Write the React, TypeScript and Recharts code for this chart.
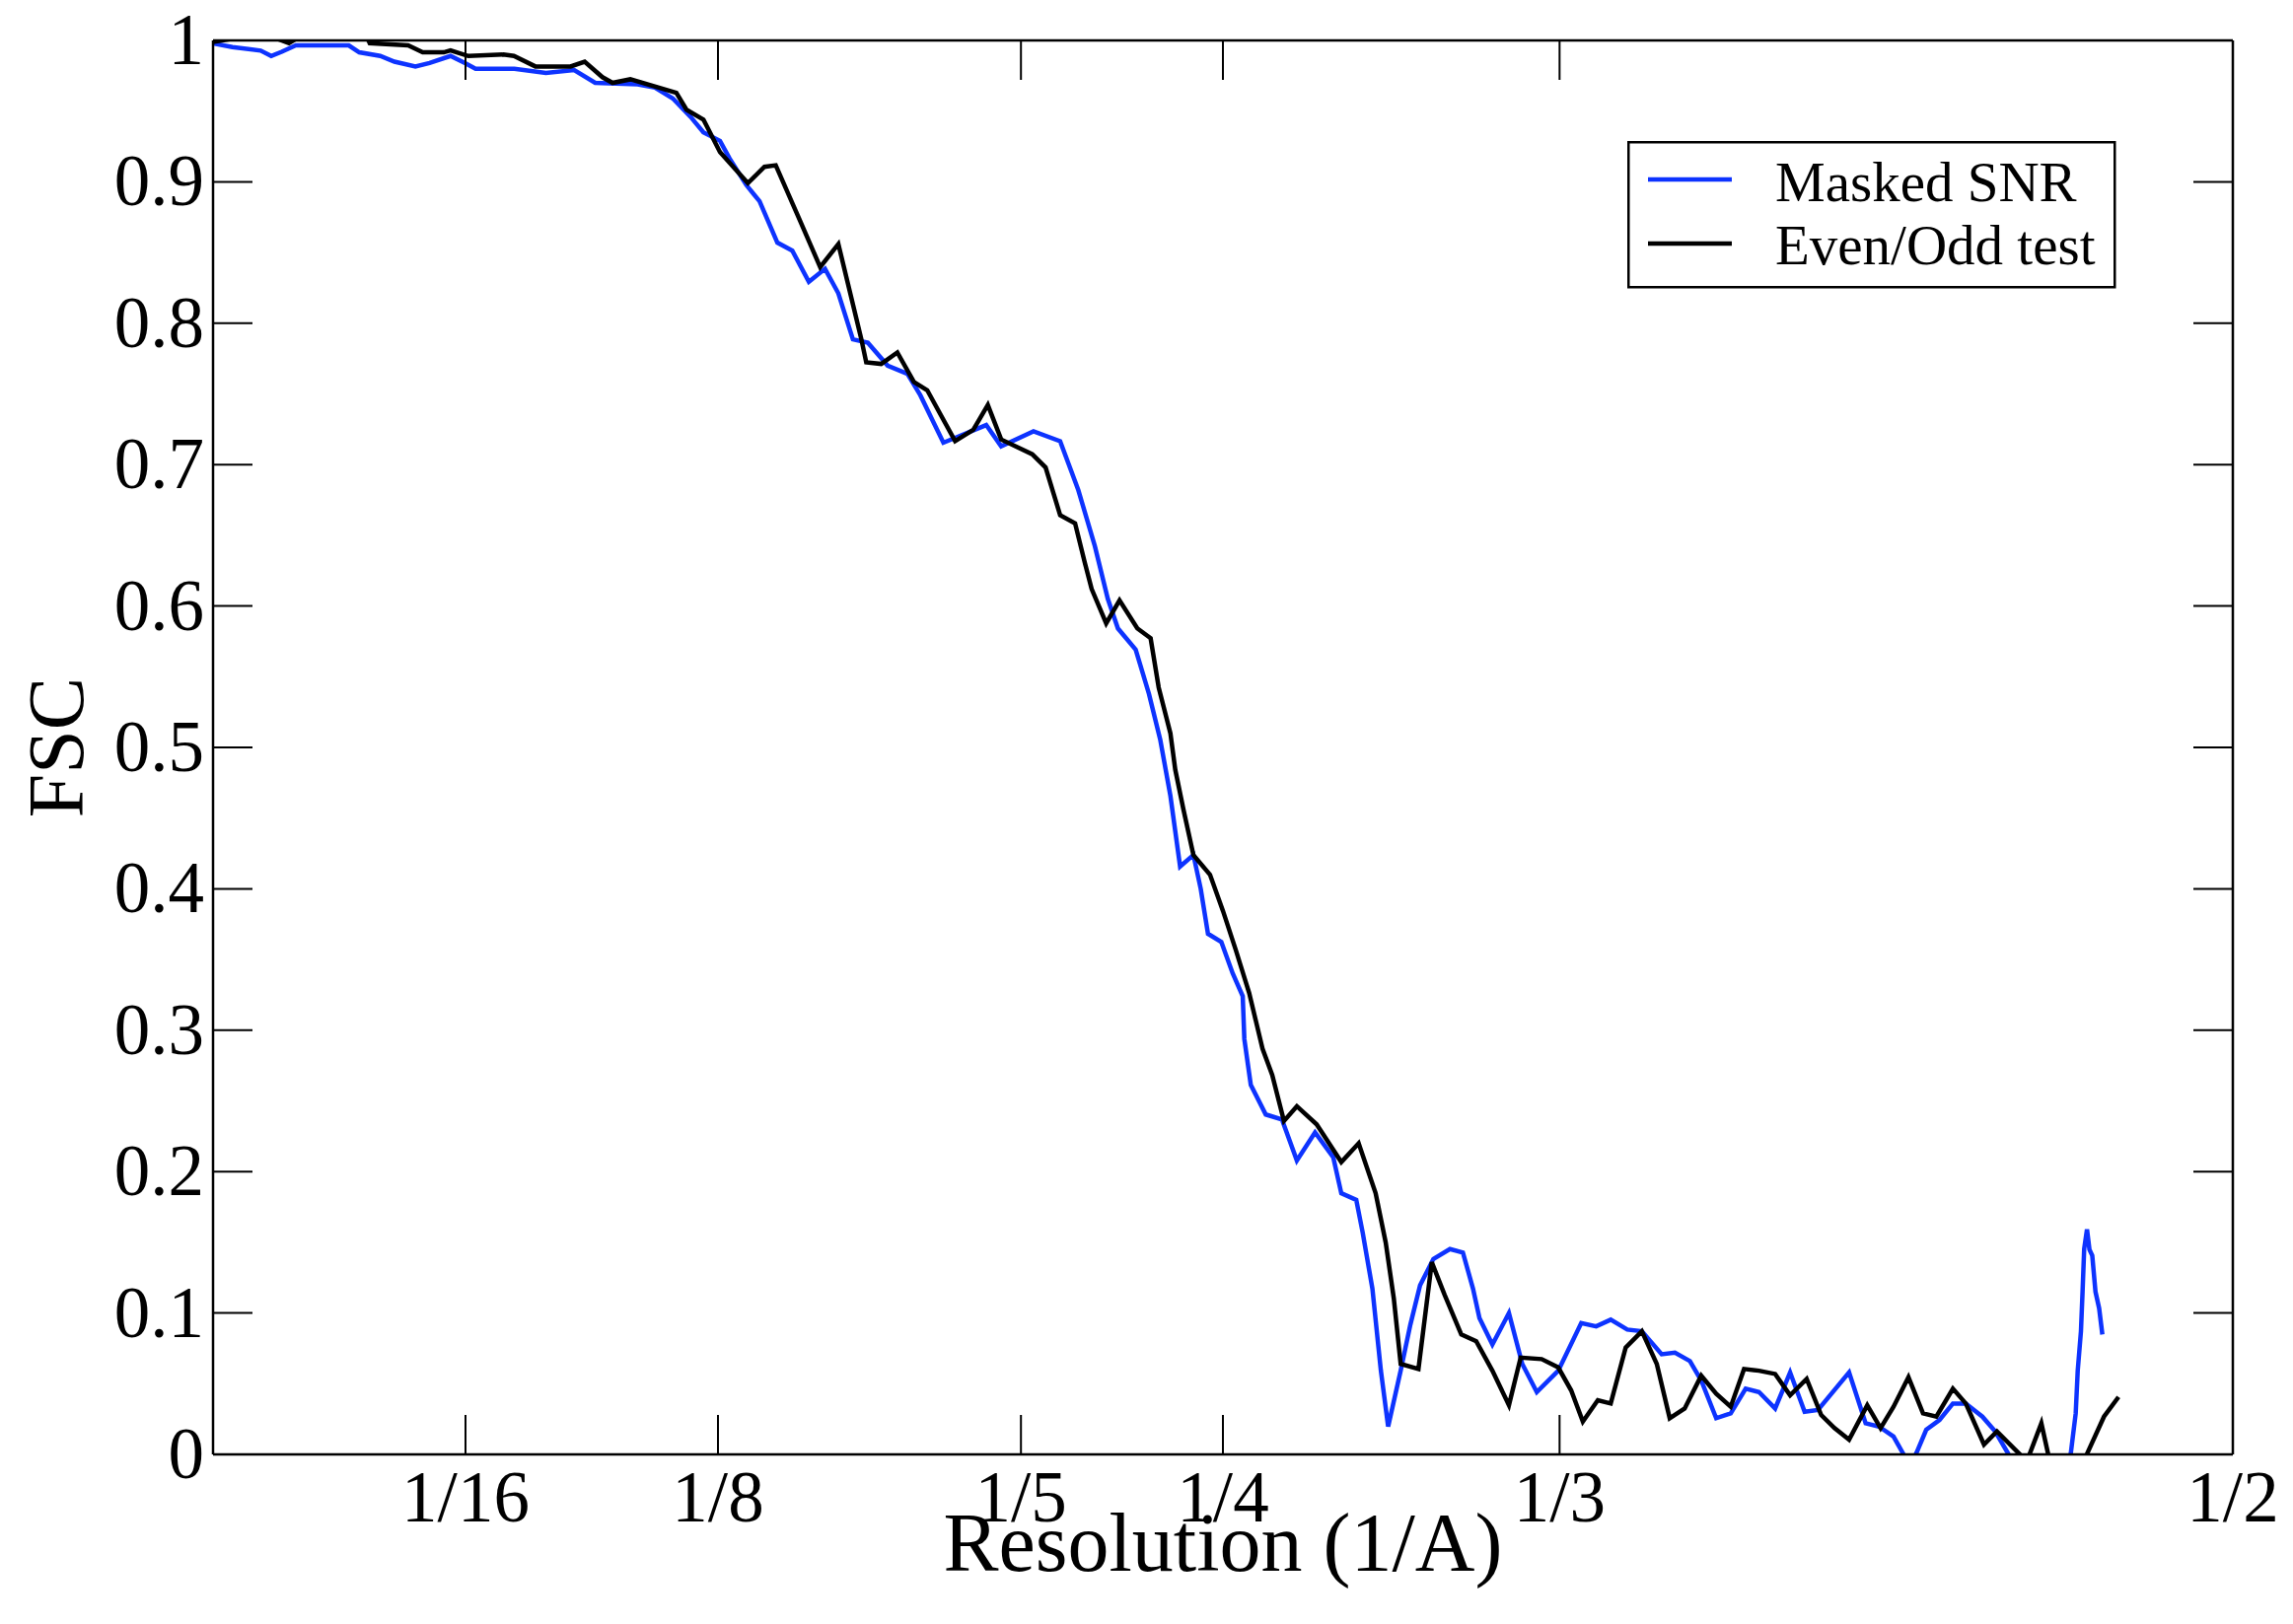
import React from "react";
import { LineChart, Line, XAxis, YAxis, Legend } from "recharts";

// Masked SNR curve (blue)
const snrRes = [
  0, 0.0048, 0.0118, 0.0144, 0.017, 0.0205, 0.0336, 0.0362, 0.0414, 0.0449, 0.0501, 0.0536, 0.0588,
  0.0624, 0.065, 0.0746, 0.0824, 0.0894, 0.0946, 0.1051, 0.1094, 0.1138, 0.1182, 0.1214, 0.1255,
  0.1279, 0.132, 0.1353, 0.1397, 0.1434, 0.1475, 0.1515, 0.1548, 0.1584, 0.1621, 0.167, 0.1719,
  0.1751, 0.1808, 0.1914, 0.1951, 0.2031, 0.2097, 0.2142, 0.2183, 0.2215, 0.224, 0.2284, 0.2317,
  0.2345, 0.237, 0.2394, 0.2427, 0.2445, 0.2463, 0.2496, 0.2524, 0.2549, 0.2553, 0.2569, 0.2606,
  0.2646, 0.2683, 0.2728, 0.2773, 0.2793, 0.283, 0.2846, 0.287, 0.2891, 0.2909, 0.294, 0.2964,
  0.2988, 0.3021, 0.3062, 0.3094, 0.3119, 0.3135, 0.3167, 0.3208, 0.3241, 0.3277, 0.333, 0.3387,
  0.3424, 0.346, 0.3501, 0.3537, 0.3586, 0.3619, 0.3656, 0.3684, 0.3721, 0.3757, 0.3794, 0.3827,
  0.3867, 0.3904, 0.394, 0.3973, 0.405, 0.4091, 0.4124, 0.416, 0.4185, 0.4201, 0.4217, 0.4241,
  0.4274, 0.4307, 0.4339, 0.438, 0.4412, 0.4445, 0.449, 0.455, 0.4585, 0.4599, 0.4611, 0.4616,
  0.4624, 0.4628, 0.4632, 0.4639, 0.4645, 0.4652, 0.466, 0.4669, 0.4677,
];
const snrFsc = [
  0.998, 0.9953, 0.9928, 0.989, 0.992, 0.9965, 0.9965, 0.9916, 0.989, 0.985, 0.9816, 0.984, 0.989,
  0.984, 0.98, 0.98, 0.977, 0.979, 0.97, 0.969, 0.9666, 0.959, 0.946, 0.935, 0.929,
  0.9164, 0.8978, 0.8862, 0.857, 0.8513, 0.8293, 0.8385, 0.8211, 0.7886, 0.7863, 0.77, 0.7642,
  0.749, 0.7155, 0.728, 0.713, 0.7235, 0.7166, 0.682, 0.6423, 0.6051, 0.5842, 0.5691, 0.5377,
  0.5052, 0.4657, 0.4158, 0.4239, 0.4, 0.3682, 0.3624, 0.3403, 0.324, 0.2938, 0.2613, 0.2404,
  0.2369, 0.2079, 0.2277, 0.2102, 0.1847, 0.18, 0.1568, 0.1173, 0.0592, 0.0197, 0.0592, 0.0918,
  0.1196, 0.1382, 0.1452, 0.1428, 0.1173, 0.0964, 0.0778, 0.0999, 0.064, 0.0441, 0.0592, 0.0929,
  0.0906, 0.0953, 0.0883, 0.0871, 0.0708, 0.072, 0.066, 0.0523, 0.0256, 0.029, 0.0465, 0.0441,
  0.0325, 0.058, 0.0302, 0.0314, 0.058, 0.022, 0.0197, 0.0127, 0.0, -0.008, 0.0012, 0.0174,
  0.0244, 0.036, 0.036, 0.0267, 0.0162, 0.0, -0.02, -0.025, -0.01, 0.001, 0.029, 0.0592,
  0.0871, 0.115, 0.1452, 0.1591, 0.145, 0.1406, 0.115, 0.1034, 0.0848,
];

// Even/Odd test curve (black)
const eoRes = [
  0, 0.0045, 0.0161, 0.0188, 0.0205, 0.0383, 0.0388, 0.0483, 0.0519, 0.0571, 0.0588, 0.0632,
  0.0719, 0.0745, 0.0798, 0.0885, 0.092, 0.0964, 0.0989, 0.1033, 0.1147, 0.1172, 0.1214, 0.1255,
  0.1324, 0.1365, 0.1393, 0.145, 0.1503, 0.1548, 0.1605, 0.1617, 0.1654, 0.1694, 0.1735, 0.1768,
  0.1837, 0.1882, 0.1918, 0.1951, 0.2028, 0.2061, 0.2097, 0.2134, 0.2158, 0.2175, 0.2211, 0.2244,
  0.2288, 0.2321, 0.2341, 0.237, 0.2382, 0.2402, 0.2427, 0.2468, 0.25, 0.2532, 0.2565, 0.2598,
  0.2622, 0.2651, 0.2683, 0.2732, 0.2793, 0.2836, 0.2878, 0.2903, 0.2923, 0.294, 0.2984, 0.3017,
  0.3049, 0.309, 0.3127, 0.3167, 0.3208, 0.3237, 0.3289, 0.333, 0.3362, 0.3391, 0.3428, 0.346,
  0.3497, 0.3537, 0.3574, 0.3606, 0.3643, 0.3684, 0.3721, 0.3757, 0.379, 0.3827, 0.3867, 0.3904,
  0.3945, 0.3981, 0.4014, 0.405, 0.4095, 0.4128, 0.416, 0.4197, 0.4233, 0.4266, 0.4307, 0.4339,
  0.4384, 0.4416, 0.4469, 0.449, 0.4526, 0.4543, 0.457, 0.461, 0.464, 0.4681, 0.4717,
];
const eoFsc = [
  0.999, 1.001, 1.001, 0.998, 1.001, 1.001, 0.998, 0.9965, 0.9916, 0.9916, 0.993, 0.989,
  0.99, 0.989, 0.9816, 0.9816, 0.985, 0.974, 0.97, 0.9725, 0.963, 0.951, 0.944, 0.921,
  0.899, 0.9106, 0.9117, 0.8746, 0.8397, 0.856, 0.7886, 0.7723, 0.7712, 0.7793, 0.7584, 0.7526,
  0.7166, 0.7247, 0.7422, 0.7178, 0.7073, 0.698, 0.6643, 0.6585, 0.6307, 0.612, 0.5877, 0.604,
  0.5842, 0.5772, 0.5424, 0.5099, 0.4843, 0.4564, 0.4239, 0.41, 0.3845, 0.3566, 0.3263, 0.2869,
  0.2683, 0.2358, 0.2462, 0.2334, 0.2067, 0.22, 0.1847, 0.1498, 0.1103, 0.064, 0.0604, 0.1359,
  0.1127, 0.0848, 0.0801, 0.0592, 0.0348, 0.0685, 0.0674, 0.0615, 0.0453, 0.0232, 0.0383, 0.036,
  0.0755, 0.0871, 0.064, 0.0256, 0.0325, 0.0557, 0.043, 0.0337, 0.0604, 0.0592, 0.0569, 0.0418,
  0.0534, 0.0279, 0.0186, 0.0105, 0.0348, 0.0186, 0.0337, 0.0546, 0.029, 0.0267, 0.0465, 0.036,
  0.007, 0.0162, 0.0012, -0.005, 0.022, 0.0, -0.03, -0.02, 0.001, 0.0267, 0.0406,
];

const seriesNames = ["Masked SNR", "Even/Odd test"];
const resTicks = [1 / 16, 1 / 8, 1 / 5, 1 / 4, 1 / 3, 1 / 2];
const resTickLabels = ["1/16", "1/8", "1/5", "1/4", "1/3", "1/2"];
const fscTicks = [0, 0.1, 0.2, 0.3, 0.4, 0.5, 0.6, 0.7, 0.8, 0.9, 1];

const snrData = snrRes.map((r, i) => ({ res: r, fsc: snrFsc[i] }));
const eoData = eoRes.map((r, i) => ({ res: r, fsc: eoFsc[i] }));

const W = 2325;
const H = 1647;
const FONT = '"Liberation Serif", "DejaVu Serif", "Times New Roman", serif';
const BLUE = "#0d33ff";
const TICK = 40;

function resLabel(v: number) {
  const i = resTicks.findIndex((t) => Math.abs(t - v) < 1e-9);
  return i >= 0 ? resTickLabels[i] : "";
}

// ticks point into the plot, labels sit outside
function BottomTick({ x, y, payload }: any) {
  return (
    <g>
      <line x1={x} y1={y} x2={x} y2={y - TICK} stroke="#000" strokeWidth={2} />
      <text x={x} y={y + 68} textAnchor="middle" fontFamily={FONT} fontSize={73} fill="#000">
        {resLabel(payload.value)}
      </text>
    </g>
  );
}

function TopTick({ x, y }: any) {
  return <line x1={x} y1={y} x2={x} y2={y + TICK} stroke="#000" strokeWidth={2} />;
}

function LeftTick({ x, y, payload }: any) {
  return (
    <g>
      <line x1={x} y1={y} x2={x + TICK} y2={y} stroke="#000" strokeWidth={2} />
      <text x={x - 9} y={y + 24} textAnchor="end" fontFamily={FONT} fontSize={73} fill="#000">
        {String(payload.value)}
      </text>
    </g>
  );
}

function RightTick({ x, y }: any) {
  return <line x1={x} y1={y} x2={x - TICK} y2={y} stroke="#000" strokeWidth={2} />;
}

function FscLegend({ payload }: any) {
  const rows = [...(payload || [])].sort(
    (a: any, b: any) => seriesNames.indexOf(a.value) - seriesNames.indexOf(b.value)
  );
  return (
    <svg width={496} height={150} style={{ display: "block" }}>
      <rect x={1.25} y={1.25} width={493} height={147} fill="#fff" stroke="#000" strokeWidth={2.5} />
      {rows.map((p: any, i: number) => (
        <g key={p.value}>
          <line x1={21} x2={106} y1={39 + i * 65} y2={39 + i * 65} stroke={p.color} strokeWidth={4.5} />
          <text x={150} y={61 + i * 64} fontFamily={FONT} fontSize={57} fill="#000">
            {p.value}
          </text>
        </g>
      ))}
    </svg>
  );
}

const axisLine = { stroke: "#000", strokeWidth: 2.5 };

export default function App() {
  return (
    <div style={{ position: "absolute", left: 0, top: 0, width: W, height: H, background: "#fff" }}>
      <LineChart width={W} height={H} margin={{ top: 3, right: 0, bottom: 0, left: 0 }}>
        <XAxis
          dataKey="res"
          type="number"
          domain={[0, 0.5]}
          ticks={resTicks}
          interval={0}
          allowDataOverflow
          height={172}
          tickSize={0}
          tickMargin={0}
          tickLine={false}
          axisLine={axisLine}
          tick={<BottomTick />}
          label={{
            value: "Resolution (1/A)",
            content: ({ viewBox }: any) => (
              <text
                x={viewBox.x + viewBox.width / 2}
                y={viewBox.y + 118}
                textAnchor="middle"
                fontFamily={FONT}
                fontSize={84}
                fill="#000"
              >
                Resolution (1/A)
              </text>
            ),
          }}
        />
        <XAxis
          xAxisId="top"
          orientation="top"
          dataKey="res"
          type="number"
          domain={[0, 0.5]}
          ticks={resTicks}
          interval={0}
          allowDataOverflow
          height={38}
          tickSize={0}
          tickMargin={0}
          tickLine={false}
          axisLine={axisLine}
          tick={<TopTick />}
        />
        <YAxis
          type="number"
          domain={[0, 1]}
          ticks={fscTicks}
          interval={0}
          allowDataOverflow
          width={216}
          tickSize={0}
          tickMargin={0}
          tickLine={false}
          axisLine={axisLine}
          tick={<LeftTick />}
          label={{
            value: "FSC",
            content: ({ viewBox }: any) => {
              const cx = viewBox.x + 84;
              const cy = viewBox.y + viewBox.height / 2;
              return (
                <text
                  x={cx}
                  y={cy}
                  transform={`rotate(-90, ${cx}, ${cy})`}
                  textAnchor="middle"
                  fontFamily={FONT}
                  fontSize={80}
                  fill="#000"
                >
                  FSC
                </text>
              );
            },
          }}
        />
        <YAxis
          yAxisId="right"
          orientation="right"
          type="number"
          domain={[0, 1]}
          ticks={fscTicks}
          interval={0}
          allowDataOverflow
          width={61}
          tickSize={0}
          tickMargin={0}
          tickLine={false}
          axisLine={axisLine}
          tick={<RightTick />}
        />
        <Legend
          layout="horizontal"
          verticalAlign="middle"
          align="center"
          content={<FscLegend />}
          wrapperStyle={{ position: "absolute", left: 1650, top: 143, width: 496, height: 150 }}
        />
        <Line
          data={snrData}
          dataKey="fsc"
          name={seriesNames[0]}
          type="linear"
          stroke={BLUE}
          strokeWidth={4.5}
          dot={false}
          isAnimationActive={false}
        />
        <Line
          data={eoData}
          dataKey="fsc"
          name={seriesNames[1]}
          type="linear"
          stroke="#000"
          strokeWidth={4.5}
          dot={false}
          isAnimationActive={false}
        />
      </LineChart>
    </div>
  );
}
